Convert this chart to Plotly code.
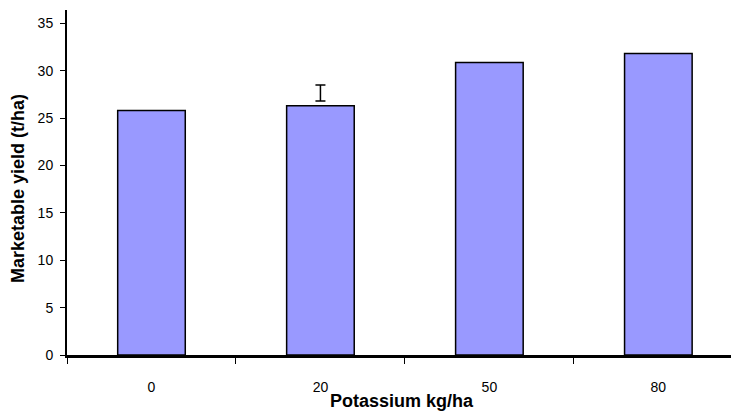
import plotly.graph_objects as go

categories = ["0", "20", "50", "80"]
yield_values = [25.8, 26.3, 30.85, 31.8]

err_category = ["20"]
err_low = [26.8]
err_high = [28.5]

y_ticks = [0, 5, 10, 15, 20, 25, 30, 35]

err_mid = [(a + b) / 2 for a, b in zip(err_low, err_high)]
err_half = [(b - a) / 2 for a, b in zip(err_low, err_high)]

fig = go.Figure()
fig.add_trace(go.Bar(
    x=categories, y=yield_values, width=0.4,
    marker=dict(color="#9999FF", line=dict(color="#000000", width=1.5)),
    showlegend=False,
))
fig.add_trace(go.Scatter(
    x=err_category, y=err_mid, mode="markers",
    marker=dict(size=1, color="rgba(0,0,0,0)"),
    error_y=dict(type="data", array=err_half, color="#000000", thickness=1.5, width=5),
    showlegend=False,
))

fig.update_layout(
    width=731, height=412,
    margin=dict(l=67, r=0, t=10, b=57),
    paper_bgcolor="white", plot_bgcolor="white",
    font=dict(family="Liberation Sans, Arial, sans-serif", size=15, color="#000000"),
    xaxis=dict(
        type="category", range=[-0.5, 3.43],
        showline=True, linecolor="#000000", linewidth=3,
        ticks="outside", tickson="boundaries", ticklen=6, tickcolor="#000000", tickwidth=1,
        showgrid=False, zeroline=False,
        ticklabelstandoff=17,
        tickfont=dict(size=14),
    ),
    yaxis=dict(
        range=[0, 36.4], tickvals=y_ticks,
        showline=True, linecolor="#000000", linewidth=2,
        ticks="outside", ticklen=5, tickcolor="#000000", tickwidth=1,
        showgrid=False, zeroline=False,
        ticklabelstandoff=4,
        tickfont=dict(size=14),
    ),
    annotations=[
        dict(text="<b>Potassium kg/ha</b>", xref="paper", yref="paper",
             x=(402 - 67) / 664, y=-(401 - 355) / 345, xanchor="center", yanchor="middle",
             showarrow=False, font=dict(size=18)),
        dict(text="<b>Marketable yield (t/ha)</b>", xref="paper", yref="paper",
             x=-(67 - 18) / 664, y=(355 - 189) / 345, xanchor="center", yanchor="middle",
             textangle=-90, showarrow=False, font=dict(size=18)),
    ],
)

fig.write_html(
    "out.html",
    config={"displayModeBar": False},
    post_script="document.body.style.margin='0';document.body.style.overflow='hidden';",
)
